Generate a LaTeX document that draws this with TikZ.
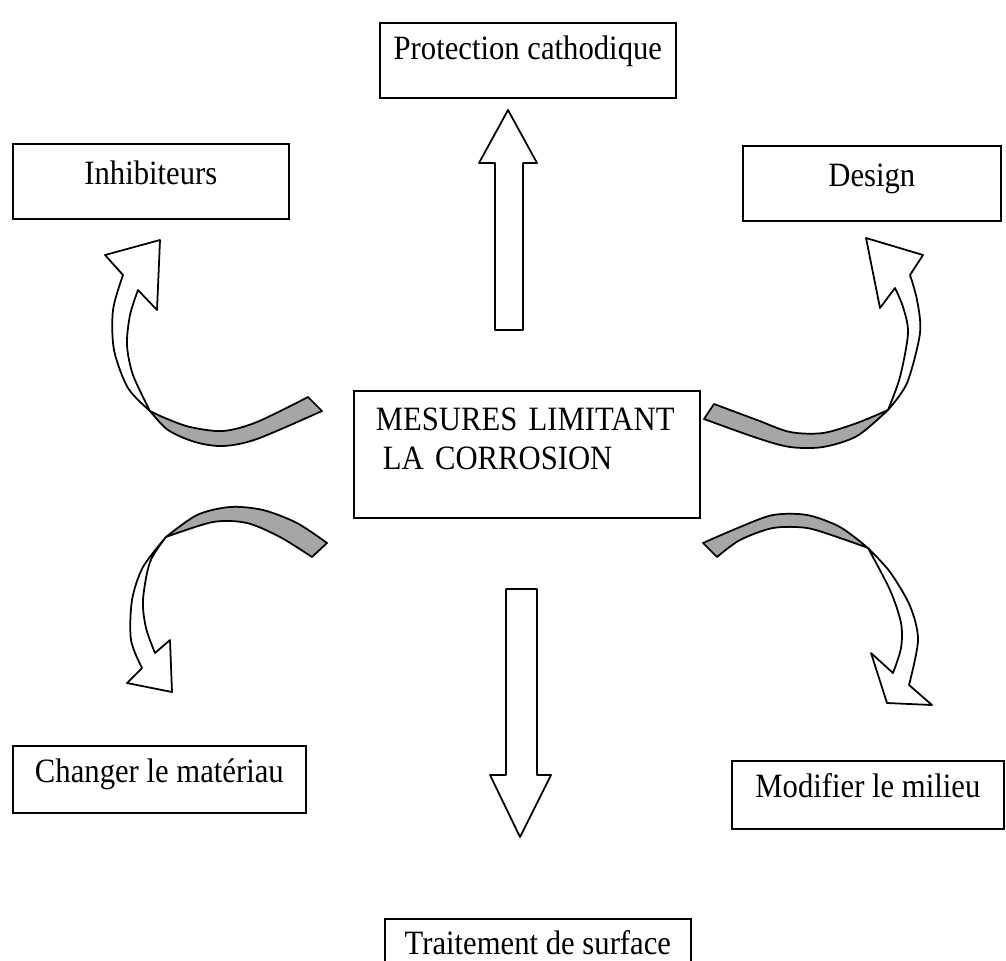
\documentclass[tikz,border=0pt]{standalone}
\usepackage{fontspec}
\setmainfont{Liberation Serif}[FakeStretch=0.9]
\tikzset{
  box/.style={draw, line width=1pt, inner sep=0pt, anchor=north west, font=\fontsize{19.4}{22.2}\selectfont},
  band/.style={draw, line width=1pt, fill=white, line join=round},
  back/.style={band, fill=black!35},
}
\begin{document}
\begin{tikzpicture}[x=0.02cm, y=-0.02cm]
\useasboundingbox (0,0) rectangle (1006,960);
\clip (0,0) rectangle (1006,960);

\node[box, minimum width=5.92cm, text height=0.74cm, text depth=0.76cm] (prot) at (379,22) {Protection cathodique};
\node[box, minimum width=5.52cm, text height=0.82cm, text depth=0.68cm] (inhib) at (12,143) {Inhibiteurs};
\node[box, minimum width=5.16cm, text height=0.82cm, text depth=0.68cm] (design) at (742,145) {Design};
\node[box, inner xsep=0.44cm, text width=6.04cm, align=left, text height=0.80cm] (centre) at (353,390)
  {MESURES LIMITANT\\\hspace*{0.14cm}LA CORROSION\rule[-0.96cm]{0pt}{0.96cm}};
\node[box, minimum width=5.86cm, text height=0.74cm, text depth=0.60cm] (changer) at (12,745) {Changer le mat\'eriau};
\node[box, minimum width=5.44cm, text height=0.74cm, text depth=0.62cm] (milieu) at (731,760) {Modifier le milieu};
\node[box, minimum width=6.12cm, text height=0.72cm, text depth=0.16cm] (surface) at (384,918) {Traitement de surface};

\draw[band] (495,330) -- (495,163) -- (479,163) -- (508,110) -- (537,163) -- (523,163) -- (523,330) -- cycle;
\draw[band] (506,589) -- (506,775) -- (490,775) -- (520,837) -- (551,775) -- (537,775) -- (537,589) -- cycle;

\draw[back] plot[smooth] coordinates {(308,397) (257,422) (223,431) (190,427) (165,418) (150,411)}
  -- plot[smooth] coordinates {(150,411) (168,430) (195,442) (223,446) (257,439) (322,411)} -- cycle;
\draw[band] plot[smooth] coordinates {(150,411) (128,388) (114,350) (113,310) (123,275)} -- (105,255) -- (160,240) -- (157,310)
  -- plot[smooth] coordinates {(138,290) (130,315) (127,345) (133,375) (150,411)} -- cycle;

\draw[back] plot[smooth] coordinates {(714,404) (757,420) (790,432) (823,433) (857,423) (888,410)}
  -- plot[smooth] coordinates {(888,410) (857,436) (823,447) (790,447) (757,438) (704,419)} -- cycle;
\draw[band] plot[smooth] coordinates {(888,410) (907,383) (920,333) (917,300) (910,275)} -- (923,255) -- (866,238) -- (880,308)
  -- plot[smooth] coordinates {(895,288) (903,307) (908,333) (900,377) (888,410)} -- cycle;

\draw[back] plot[smooth] coordinates {(327,543) (297,523) (263,510) (230,507) (197,515) (166,537)}
  -- plot[smooth] coordinates {(166,537) (213,522) (247,523) (280,537) (312,557)} -- cycle;
\draw[band] plot[smooth] coordinates {(166,537) (143,567) (132,600) (131,640) (142,668)} -- (127,683) -- (172,692) -- (170,640)
  -- plot[smooth] coordinates {(155,653) (146,628) (143,600) (150,562) (166,537)} -- cycle;

\draw[back] plot[smooth] coordinates {(703,543) (740,527) (773,515) (807,515) (840,527) (868,548)}
  -- plot[smooth] coordinates {(868,548) (840,538) (807,528) (773,528) (740,540) (717,557)} -- cycle;
\draw[band] plot[smooth] coordinates {(868,548) (890,572) (910,606) (918,640) (909,685)} -- (932,705) -- (887,703) -- (871,653)
  -- plot[smooth] coordinates {(893,673) (901,648) (901,623) (890,590) (868,548)} -- cycle;
\end{tikzpicture}
\end{document}
